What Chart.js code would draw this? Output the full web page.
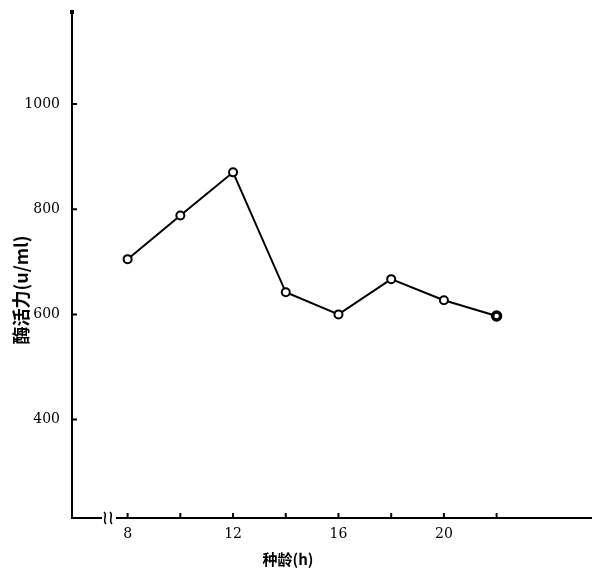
<!DOCTYPE html>
<html lang="zh">
<head>
<meta charset="UTF-8">
<title>种龄与酶活力</title>
<script src="https://cdn.jsdelivr.net/npm/chart.js"></script>
<style>
  html, body { margin: 0; padding: 0; background: #fff; }
</style>
</head>
<body>
<canvas id="enzymeChart" width="599" height="569"></canvas>
<script>
// data
const seedAge = [8, 10, 12, 14, 16, 18, 20, 22];
const activity = [705, 788, 870, 642, 600, 667, 627, 597];
const xTickValues = [8, 10, 12, 14, 16, 18, 20, 22];
const xTickLabels = [8, 12, 16, 20];
const yTickValues = [400, 600, 800, 1000];
const xTitle = '种龄(h)';
const yTitle = '酶活力(u/ml)';

// inward tick marks, axis break and titles
const axisDecor = {
    id: 'axisDecor',
    afterDraw(chart) {
        const ctx = chart.ctx;
        const xs = chart.scales.x, ys = chart.scales.y;
        const area = chart.chartArea;
        ctx.save();
        ctx.strokeStyle = '#000';
        ctx.lineWidth = 2;
        ctx.beginPath();
        xTickValues.forEach(v => {
            const px = xs.getPixelForValue(v);
            ctx.moveTo(px, area.bottom);
            ctx.lineTo(px, area.bottom - 5);
        });
        yTickValues.forEach(v => {
            const py = ys.getPixelForValue(v);
            ctx.moveTo(area.left, py);
            ctx.lineTo(area.left + 5, py);
        });
        // y axis runs a little past the chart area at the top
        ctx.moveTo(area.left, area.top);
        ctx.lineTo(area.left, 10);
        ctx.stroke();
        ctx.fillStyle = '#000';
        ctx.fillRect(area.left - 2, 10, 4, 4);

        // break on the x axis
        const bx = area.left + 30, by = area.bottom;
        ctx.fillStyle = '#fff';
        ctx.fillRect(bx, by - 3, 14, 6);
        ctx.lineWidth = 1.5;
        [bx + 3, bx + 9].forEach(sx => {
            ctx.beginPath();
            ctx.moveTo(sx - 1, by - 6);
            ctx.bezierCurveTo(sx + 3, by - 3, sx - 3, by + 2, sx + 1, by + 6);
            ctx.stroke();
        });

        ctx.fillStyle = '#000';
        ctx.font = 'bold 15px "Noto Sans CJK SC"';
        ctx.textAlign = 'center';
        ctx.textBaseline = 'middle';
        ctx.fillText(xTitle, 288, 559);
        ctx.translate(21, 290);
        ctx.rotate(-Math.PI / 2);
        ctx.font = 'bold 18px "Noto Sans CJK SC"';
        ctx.fillText(yTitle, 0, 0);
        ctx.restore();
    }
};

const ctx = document.getElementById('enzymeChart').getContext('2d');
new Chart(ctx, {
    type: 'line',
    data: {
        datasets: [{
            label: yTitle,
            data: seedAge.map((x, i) => ({ x: x, y: activity[i] })),
            borderColor: '#000',
            borderWidth: 2,
            tension: 0,
            pointRadius: 4,
            pointBorderWidth: [2, 2, 2, 2, 2, 2, 2, 3.5],
            pointBorderColor: '#000',
            pointBackgroundColor: '#fff'
        }]
    },
    options: {
        responsive: false,
        animation: false,
        layout: { padding: { top: 5, right: 4, left: 0, bottom: 0 } },
        plugins: { legend: { display: false }, tooltip: { enabled: false } },
        scales: {
            x: {
                type: 'linear',
                min: 5.89,
                max: 25.6,
                afterBuildTicks: s => { s.ticks = xTickValues.map(v => ({ value: v })); },
                afterFit: s => { s.height = 51; },
                grid: { display: false },
                border: { display: true, color: '#000', width: 2 },
                ticks: {
                    padding: 0,
                    color: '#000',
                    font: { family: '"DejaVu Serif"', size: 14 },
                    maxRotation: 0,
                    callback: v => xTickLabels.includes(v) ? String(v) : ''
                }
            },
            y: {
                min: 213,
                max: 1174,
                afterBuildTicks: s => { s.ticks = yTickValues.map(v => ({ value: v })); },
                afterFit: s => { s.width = 72; },
                grid: { display: false },
                border: { display: true, color: '#000', width: 2 },
                ticks: {
                    padding: 4,
                    color: '#000',
                    font: { family: '"DejaVu Serif"', size: 14 },
                    callback: v => String(v)
                }
            }
        }
    },
    plugins: [axisDecor]
});
</script>
</body>
</html>
